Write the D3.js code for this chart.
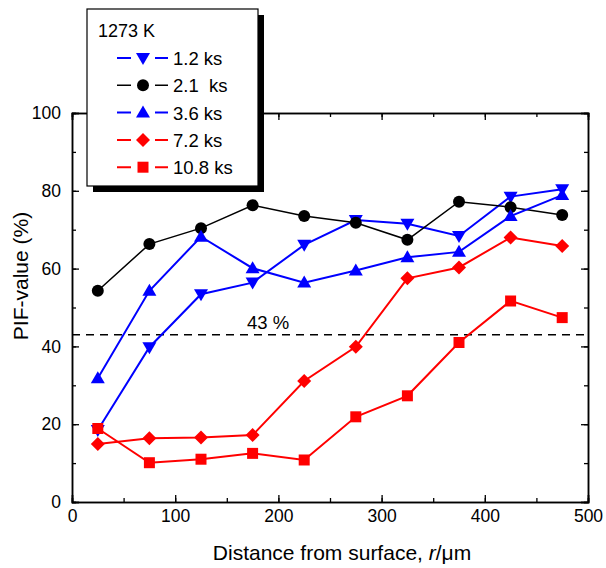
<!DOCTYPE html>
<html><head><meta charset="utf-8">
<script src="https://cdn.jsdelivr.net/npm/d3@7/dist/d3.min.js"></script>
<style>body{margin:0;background:#fff}svg{display:block}text{font-family:"Liberation Sans",Arial,sans-serif;fill:#000}</style>
</head><body><div id="c"></div>
<script>
const distances = [25, 75, 125, 175, 225, 275, 325, 375, 425, 475];
const s1_2ks  = [18.5, 39.8, 53.4, 56.4, 66.1, 72.5, 71.5, 68.4, 78.5, 80.4];
const s2_1ks  = [54.3, 66.3, 70.4, 76.3, 73.5, 71.8, 67.4, 77.2, 75.8, 73.8];
const s3_6ks  = [31.8, 54.3, 68.2, 60.1, 56.4, 59.5, 62.9, 64.3, 73.5, 78.9];
const s7_2ks  = [14.9, 16.4, 16.6, 17.2, 31.1, 39.9, 57.5, 60.3, 68.0, 65.8];
const s10_8ks = [18.9, 10.1, 11.0, 12.5, 10.8, 21.9, 27.3, 41.0, 51.7, 47.4];
const seriesNames = ["1.2 ks", "2.1  ks", "3.6 ks", "7.2 ks", "10.8 ks"];
const xTicks = [0, 100, 200, 300, 400, 500];
const yTicks = [0, 20, 40, 60, 80, 100];
const threshold = 43;

const series = [
  {name: seriesNames[0], values: s1_2ks,  color: "#0000ff", sym: "down", lw: 2},
  {name: seriesNames[1], values: s2_1ks,  color: "#000000", sym: "circle", lw: 1.5},
  {name: seriesNames[2], values: s3_6ks,  color: "#0000ff", sym: "up", lw: 2},
  {name: seriesNames[3], values: s7_2ks,  color: "#ff0000", sym: "diamond", lw: 2},
  {name: seriesNames[4], values: s10_8ks, color: "#ff0000", sym: "square", lw: 2}
];

const W = 606, H = 568;
const m = {left: 72, right: 18, top: 113, bottom: 66};
const svg = d3.select("#c").append("svg").attr("width", W).attr("height", H);
const x = d3.scaleLinear().domain([0, 500]).range([m.left, W - m.right]);
const y = d3.scaleLinear().domain([0, 100]).range([H - m.bottom, m.top]);

function marker(g, type, cx, cy, color) {
  let p;
  if (type === "circle") {
    g.append("circle").attr("cx", cx).attr("cy", cy).attr("r", 6).attr("fill", color);
    return;
  }
  if (type === "square") p = `M${cx-5.5},${cy-5.5}h11v11h-11Z`;
  if (type === "diamond") p = `M${cx},${cy-7}L${cx+7},${cy}L${cx},${cy+7}L${cx-7},${cy}Z`;
  if (type === "up") p = `M${cx},${cy-7}L${cx+7},${cy+5}L${cx-7},${cy+5}Z`;
  if (type === "down") p = `M${cx},${cy+7}L${cx+7},${cy-5}L${cx-7},${cy-5}Z`;
  g.append("path").attr("d", p).attr("fill", color);
}

// axes with inward ticks
const axG = svg.append("g");
const minorX = d3.range(0, 501, 50), minorY = d3.range(0, 101, 10);
axG.append("g").attr("transform", `translate(0,${y(0)})`)
  .call(d3.axisBottom(x).tickValues(minorX).tickSize(-4).tickFormat(""));
axG.append("g").attr("transform", `translate(0,${y(0)})`)
  .call(d3.axisBottom(x).tickValues(xTicks).tickSize(-7).tickPadding(8).tickFormat(d3.format("d")));
axG.append("g").attr("transform", `translate(0,${y(100)})`)
  .call(d3.axisTop(x).tickValues(minorX).tickSize(-4).tickFormat(""));
axG.append("g").attr("transform", `translate(0,${y(100)})`)
  .call(d3.axisTop(x).tickValues(xTicks).tickSize(-7).tickFormat(""));
axG.append("g").attr("transform", `translate(${x(0)},0)`)
  .call(d3.axisLeft(y).tickValues(minorY).tickSize(-4).tickFormat(""));
axG.append("g").attr("transform", `translate(${x(0)},0)`)
  .call(d3.axisLeft(y).tickValues(yTicks).tickSize(-7).tickPadding(11).tickFormat(d3.format("d")));
axG.append("g").attr("transform", `translate(${x(500)},0)`)
  .call(d3.axisRight(y).tickValues(minorY).tickSize(-4).tickFormat(""));
axG.append("g").attr("transform", `translate(${x(500)},0)`)
  .call(d3.axisRight(y).tickValues(yTicks).tickSize(-7).tickFormat(""));
axG.selectAll(".domain").attr("stroke", "#000").attr("stroke-width", 1.5);
axG.selectAll(".tick line").attr("stroke", "#000").attr("stroke-width", 1.3);
axG.selectAll(".tick text").style("font-size", "17.5px").style("font-family", '"Liberation Sans",Arial,sans-serif').attr("fill", "#000");

// threshold line
svg.append("line").attr("x1", x(0)).attr("x2", x(500)).attr("y1", y(threshold)).attr("y2", y(threshold))
  .attr("stroke", "#000").attr("stroke-width", 1.6).attr("stroke-dasharray", "8,6");
svg.append("text").attr("x", 247).attr("y", y(threshold) - 6).style("font-size", "18.5px").text(threshold + " %");

// series
const line = d3.line().x((d, i) => x(distances[i])).y(d => y(d));
series.forEach(s => {
  svg.append("path").datum(s.values).attr("d", line).attr("fill", "none")
    .attr("stroke", s.color).attr("stroke-width", s.lw);
});
series.forEach(s => {
  const g = svg.append("g");
  s.values.forEach((v, i) => marker(g, s.sym, x(distances[i]), y(v), s.color));
});

// axis titles
svg.append("text").attr("x", 342).attr("y", 560).attr("text-anchor", "middle")
  .style("font-size", "21px")
  .html('Distance from surface, <tspan font-style="italic">r</tspan>/\u03bcm');
svg.append("text").attr("transform", `translate(28,276) rotate(-90)`)
  .attr("text-anchor", "middle").style("font-size", "21px").text("PIF-value (%)");

// legend
const lg = svg.append("g");
lg.append("rect").attr("x", 93).attr("y", 15).attr("width", 171).attr("height", 177).attr("fill", "#000");
lg.append("rect").attr("x", 87).attr("y", 9).attr("width", 171).attr("height", 177)
  .attr("fill", "#fff").attr("stroke", "#000").attr("stroke-width", 1.2);
lg.append("text").attr("x", 98).attr("y", 37).style("font-size", "18px").text("1273 K");
series.forEach((s, i) => {
  const cy = 58 + i * 27.3;
  lg.append("line").attr("x1", 117).attr("x2", 168).attr("y1", cy).attr("y2", cy)
    .attr("stroke", s.color).attr("stroke-width", s.lw);
  lg.append("rect").attr("x", 131).attr("y", cy - 9).attr("width", 24).attr("height", 18).attr("fill", "#fff");
  marker(lg, s.sym, 143, cy, s.color);
  lg.append("text").attr("x", 173).attr("y", cy + 7).style("font-size", "18.5px")
    .style("white-space", "pre").text(s.name);
});
</script></body></html>
